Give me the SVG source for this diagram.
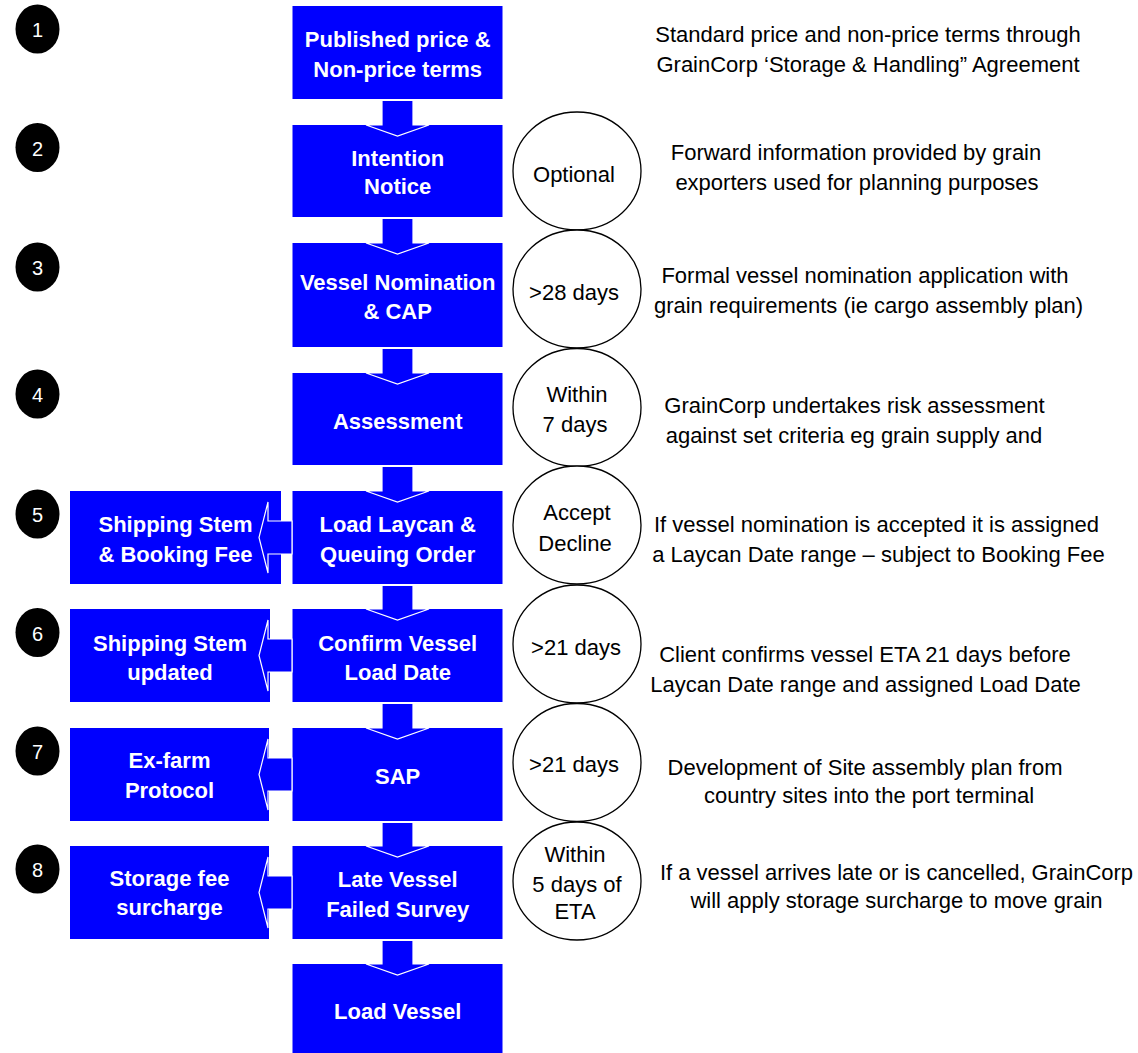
<svg xmlns="http://www.w3.org/2000/svg" width="1138" height="1053" viewBox="0 0 1138 1053">
<style>
.box{fill:#0000FF}
.bt{font-family:"Liberation Sans",Arial,sans-serif;font-weight:bold;font-size:22px;fill:#fff;text-anchor:middle}
.ct{font-family:"Liberation Sans",Arial,sans-serif;font-size:22px;fill:#000;text-anchor:middle}
.circ{fill:#fff;stroke:#000;stroke-width:1.3}
.num{fill:#000}
.nt{font-family:"Liberation Sans",Arial,sans-serif;font-size:20px;fill:#fff;text-anchor:middle}
.arr{fill:#0000FF;stroke:#fff;stroke-width:1.2;stroke-linejoin:miter}
</style>
<rect width="1138" height="1053" fill="#fff"/>

<g id="numbers">
<g id="n1"><ellipse class="num" cx="37.5" cy="29" rx="22" ry="24.5"/><text class="nt" x="37.5" y="37">1</text></g>
<g id="n2"><ellipse class="num" cx="37.5" cy="147.5" rx="22" ry="24.5"/><text class="nt" x="37.5" y="155.5">2</text></g>
<g id="n3"><ellipse class="num" cx="37.5" cy="267" rx="22" ry="24.5"/><text class="nt" x="37.5" y="275">3</text></g>
<g id="n4"><ellipse class="num" cx="37.5" cy="394" rx="22" ry="24.5"/><text class="nt" x="37.5" y="402">4</text></g>
<g id="n5"><ellipse class="num" cx="37.5" cy="514" rx="22" ry="24.5"/><text class="nt" x="37.5" y="522">5</text></g>
<g id="n6"><ellipse class="num" cx="37.5" cy="632.5" rx="22" ry="24.5"/><text class="nt" x="37.5" y="640.5">6</text></g>
<g id="n7"><ellipse class="num" cx="37.5" cy="751" rx="22" ry="24.5"/><text class="nt" x="37.5" y="759">7</text></g>
<g id="n8"><ellipse class="num" cx="37.5" cy="869" rx="22" ry="24.5"/><text class="nt" x="37.5" y="877">8</text></g>
</g>

<g id="main-boxes">
<g id="b1"><rect class="box" x="292.5" y="6" width="210" height="93"/><text class="bt" x="397.7" y="47">Published price &amp;</text><text class="bt" x="397.7" y="77">Non-price terms</text></g>
<g id="b2"><rect class="box" x="292.5" y="125" width="210" height="92"/><text class="bt" x="397.7" y="166">Intention</text><text class="bt" x="397.7" y="194">Notice</text></g>
<g id="b3"><rect class="box" x="292.5" y="243" width="210" height="104"/><text class="bt" x="397.7" y="290">Vessel Nomination</text><text class="bt" x="397.7" y="319">&amp; CAP</text></g>
<g id="b4"><rect class="box" x="292.5" y="373" width="210" height="92"/><text class="bt" x="397.7" y="429">Assessment</text></g>
<g id="b5"><rect class="box" x="292.5" y="491" width="210" height="93"/><text class="bt" x="397.7" y="532">Load Laycan &amp;</text><text class="bt" x="397.7" y="562">Queuing Order</text></g>
<g id="b6"><rect class="box" x="292.5" y="609" width="210" height="93"/><text class="bt" x="397.7" y="651">Confirm Vessel</text><text class="bt" x="397.7" y="680">Load Date</text></g>
<g id="b7"><rect class="box" x="292.5" y="728" width="210" height="93"/><text class="bt" x="397.7" y="784">SAP</text></g>
<g id="b8"><rect class="box" x="292.5" y="846" width="210" height="93"/><text class="bt" x="397.7" y="887">Late Vessel</text><text class="bt" x="397.7" y="917">Failed Survey</text></g>
<g id="b9"><rect class="box" x="292.5" y="964" width="210" height="89"/><text class="bt" x="397.7" y="1019">Load Vessel</text></g>
</g>

<g id="side-boxes">
<g id="s5"><rect class="box" x="70" y="491" width="211" height="93"/><text class="bt" x="175.5" y="532">Shipping Stem</text><text class="bt" x="175.5" y="562">&amp; Booking Fee</text></g>
<g id="s6"><rect class="box" x="70" y="609" width="200" height="93"/><text class="bt" x="170" y="651">Shipping Stem</text><text class="bt" x="170" y="680">updated</text></g>
<g id="s7"><rect class="box" x="70" y="728" width="199" height="93"/><text class="bt" x="169.5" y="768">Ex-farm</text><text class="bt" x="169.5" y="798">Protocol</text></g>
<g id="s8"><rect class="box" x="70" y="846" width="199" height="93"/><text class="bt" x="169.5" y="886">Storage fee</text><text class="bt" x="169.5" y="915">surcharge</text></g>
</g>

<g id="connectors">
<polygon class="arr" points="382,100.5 382,125 366,125 397.5,136 429,125 413,125 413,100.5"/>
<polygon class="arr" points="382,218.5 382,243 366,243 397.5,254 429,243 413,243 413,218.5"/>
<polygon class="arr" points="382,348.5 382,373 366,373 397.5,384 429,373 413,373 413,348.5"/>
<polygon class="arr" points="382,466.5 382,491 366,491 397.5,502 429,491 413,491 413,466.5"/>
<polygon class="arr" points="382,585.5 382,609 366,609 397.5,620 429,609 413,609 413,585.5"/>
<polygon class="arr" points="382,703.5 382,728 366,728 397.5,739 429,728 413,728 413,703.5"/>
<polygon class="arr" points="382,822.5 382,846 366,846 397.5,857 429,846 413,846 413,822.5"/>
<polygon class="arr" points="382,940.5 382,964 366,964 397.5,975 429,964 413,964 413,940.5"/>
<polygon class="arr" points="292,521 268,521 268,502 259,537.5 268,573 268,554 292,554"/>
<polygon class="arr" points="292,639 268,639 268,620 259,655.5 268,691 268,672 292,672"/>
<polygon class="arr" points="292,758 268,758 268,739 259,774.5 268,810 268,791 292,791"/>
<polygon class="arr" points="292,876 268,876 268,857 259,892.5 268,928 268,909 292,909"/>
</g>

<g id="timing">
<g id="c2"><ellipse class="circ" cx="577" cy="171" rx="64" ry="59"/><text class="ct" x="574" y="182">Optional</text></g>
<g id="c3"><ellipse class="circ" cx="577" cy="289" rx="64" ry="59"/><text class="ct" x="574" y="300">&gt;28 days</text></g>
<g id="c4"><ellipse class="circ" cx="577" cy="407.5" rx="64" ry="59"/><text class="ct" x="577" y="402">Within</text><text class="ct" x="575" y="432">7 days</text></g>
<g id="c5"><ellipse class="circ" cx="577" cy="525" rx="64" ry="59"/><text class="ct" x="577" y="520">Accept</text><text class="ct" x="575" y="551">Decline</text></g>
<g id="c6"><ellipse class="circ" cx="577" cy="644" rx="64" ry="59"/><text class="ct" x="576" y="655">&gt;21 days</text></g>
<g id="c7"><ellipse class="circ" cx="577" cy="762.5" rx="64" ry="59"/><text class="ct" x="574" y="772">&gt;21 days</text></g>
<g id="c8"><ellipse class="circ" cx="577" cy="881" rx="64" ry="59"/><text class="ct" x="575" y="862">Within</text><text class="ct" x="577" y="892">5 days of</text><text class="ct" x="575" y="919">ETA</text></g>
</g>

<g id="descriptions">
<g id="d1"><text class="ct" x="868" y="42">Standard price and non-price terms through</text><text class="ct" x="868" y="72">GrainCorp ‘Storage &amp; Handling” Agreement</text></g>
<g id="d2"><text class="ct" x="856" y="160">Forward information provided by grain</text><text class="ct" x="857" y="190">exporters used for planning purposes</text></g>
<g id="d3"><text class="ct" x="865" y="283">Formal vessel nomination application with</text><text class="ct" x="868.5" y="313">grain requirements (ie cargo assembly plan)</text></g>
<g id="d4"><text class="ct" x="854.5" y="413">GrainCorp undertakes risk assessment</text><text class="ct" x="854" y="443">against set criteria eg grain supply and</text></g>
<g id="d5"><text class="ct" x="876.5" y="532">If vessel nomination is accepted it is assigned</text><text class="ct" x="878.5" y="562">a Laycan Date range – subject to Booking Fee</text></g>
<g id="d6"><text class="ct" x="865" y="662">Client confirms vessel ETA 21 days before</text><text class="ct" x="865.5" y="692">Laycan Date range and assigned Load Date</text></g>
<g id="d7"><text class="ct" x="865" y="775">Development of Site assembly plan from</text><text class="ct" x="869" y="803">country sites into the port terminal</text></g>
<g id="d8"><text class="ct" x="896.5" y="880">If a vessel arrives late or is cancelled, GrainCorp</text><text class="ct" x="896.5" y="908">will apply storage surcharge to move grain</text></g>
</g>
</svg>
